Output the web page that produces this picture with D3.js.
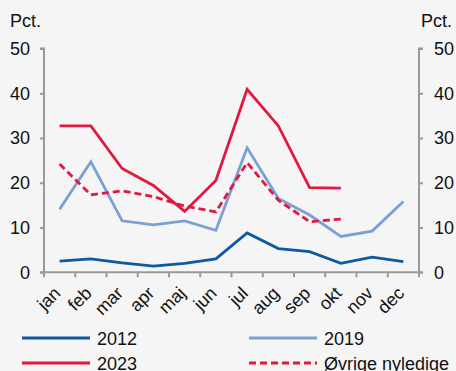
<!DOCTYPE html>
<html><head><meta charset="utf-8">
<script src="https://cdn.jsdelivr.net/npm/d3@7"></script>
<style>
html,body{margin:0;padding:0;background:#f5f5f5;}
svg{display:block;font-family:Arial,"Liberation Sans",sans-serif;}
</style></head>
<body><svg id="c" width="456" height="371"></svg>
<script>
const months = ["jan","feb","mar","apr","maj","jun","jul","aug","sep","okt","nov","dec"];
const yTicks = [0,10,20,30,40,50];
const s2012 = [2.5,3.0,2.1,1.4,2.0,3.0,8.8,5.3,4.6,2.0,3.4,2.4];
const s2019 = [14.1,24.7,11.5,10.6,11.5,9.4,27.8,16.5,12.8,8.0,9.2,15.8];
const s2023 = [32.7,32.7,23.2,19.4,13.6,20.5,40.9,32.7,18.9,18.8];
const sOvrige = [24.2,17.3,18.2,16.9,14.8,13.5,24.5,16.1,11.3,11.9];
const seriesNames = ["2012","2019","2023","Øvrige nyledige"];

const svg = d3.select("#c");
const L = 44, R = 419, T = 48.5, B = 272.3;
const x = d3.scaleBand().domain(months).range([L,R]);
const y = d3.scaleLinear().domain([0,50]).range([B,T]);
const axisCol = "#9a9a9a";

// left axis
const gl = svg.append("g").attr("transform",`translate(${L},0)`)
  .call(d3.axisLeft(y).tickValues(yTicks).tickSize(4).tickPadding(10));
// right axis
const gr = svg.append("g").attr("transform",`translate(${R},0)`)
  .call(d3.axisRight(y).tickValues(yTicks).tickSize(4).tickPadding(11));
// bottom axis
const gb = svg.append("g").attr("transform",`translate(0,${B})`)
  .call(d3.axisBottom(x).tickSize(5).tickFormat(d=>d));
gb.selectAll(".tick line").attr("transform",`translate(${-x.bandwidth()/2},0)`);
gb.append("line").attr("x1",R).attr("x2",R).attr("y1",0).attr("y2",5);
[gl,gr,gb].forEach(g=>{
  g.select(".domain").attr("stroke",axisCol).attr("stroke-width",2);
  g.selectAll("line").attr("stroke",axisCol).attr("stroke-width",2);
  g.selectAll("text").attr("fill","#111").attr("font-size",18).attr("font-family","Arial,'Liberation Sans',sans-serif");
});
gl.select(".domain").attr("d",`M-4,${T}H0V${B}H-4`);
gr.select(".domain").attr("d",`M4,${T}H0V${B}H4`);
gb.select(".domain").attr("d",`M${L},0H${R}`);
gb.selectAll("text")
  .attr("text-anchor","end").attr("dy",null).attr("y",0)
  .attr("transform","translate(2,22) rotate(-45)");

svg.append("text").attr("x",10).attr("y",27).attr("font-size",18).attr("fill","#111").text("Pct.");
svg.append("text").attr("x",421).attr("y",27).attr("font-size",18).attr("fill","#111").text("Pct.");

const line = d3.line().x((d,i)=>x(months[i])+x.bandwidth()/2).y(d=>y(d));
const defs = [
  {data:s2012,color:"#0c5aa2",dash:null},
  {data:s2019,color:"#7ba0d4",dash:null},
  {data:s2023,color:"#e2183f",dash:null},
  {data:sOvrige,color:"#e2183f",dash:"7,4"}
];
[1,0,3,2].forEach(k=>{
  const s = defs[k];
  svg.append("path").attr("d",line(s.data)).attr("fill","none")
    .attr("stroke",s.color).attr("stroke-width",2.8)
    .attr("stroke-dasharray",s.dash).attr("stroke-linejoin","miter");
});

// legend
const legPos = [[22,338],[249,338],[22,363],[249,363]];
defs.forEach((s,i)=>{
  const [lx,ly] = legPos[i];
  svg.append("line").attr("x1",lx).attr("x2",lx+68).attr("y1",ly).attr("y2",ly)
    .attr("stroke",s.color).attr("stroke-width",2.8).attr("stroke-dasharray",s.dash);
  svg.append("text").attr("x",lx+75).attr("y",ly+6.5).attr("font-size",18).attr("fill","#111").text(seriesNames[i]);
});
</script></body></html>
